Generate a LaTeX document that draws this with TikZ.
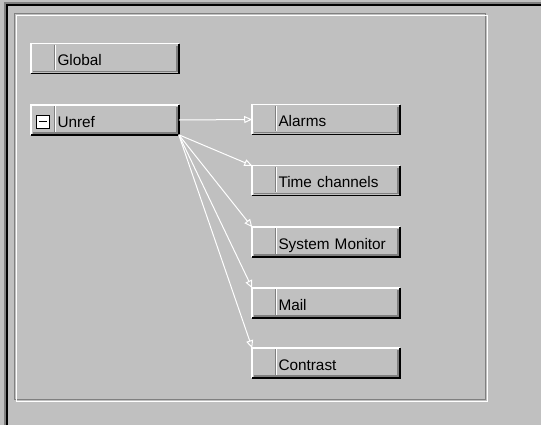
\documentclass[tikz,border=0pt]{standalone}
\usepackage{fontspec}
\setmainfont{Liberation Sans}
\usetikzlibrary{arrows.meta}
\definecolor{face}{HTML}{C0C0C0}
\definecolor{darkedge}{HTML}{808080}
\newlength{\px}
\setlength{\px}{0.75pt}
\newcommand{\bevel}[1]{%
  \draw[white, line width=1.5\px] (#1.south west) -- (#1.north west) -- (#1.north east);
  \draw[black, line width=1.5\px] (#1.north east) -- (#1.south east) -- (#1.south west);
  \draw[darkedge, line width=1.5\px] ([shift={(-2,2)}]#1.north east) -- ([shift={(-2,-2)}]#1.south east) -- ([shift={(2,-2)}]#1.south west);
  \draw[darkedge, line width=1\px] ([shift={(23.5,1)}]#1.north west) -- ([shift={(23.5,-3)}]#1.south west);
  \draw[white, line width=1\px] ([shift={(24.5,1)}]#1.north west) -- ([shift={(24.5,-3)}]#1.south west);
}
\tikzset{
  btn/.style={rectangle, fill=face, inner sep=0pt, minimum width=147\px, minimum height=29\px,
    text width=147\px, align=left, text height=10.5pt, text depth=0pt,
    font=\fontsize{11.5}{13}\selectfont, execute at begin node={\hspace*{26\px}}},
  link/.style={white, line width=1\px, -{Triangle[open, length=6pt, width=5.25pt]}}
}
\begin{document}
\begin{tikzpicture}[x=0.75pt, y=-0.75pt]
        \useasboundingbox (0,0) rectangle (541,425);
        \fill[face] (0,0) rectangle (541,425);
        % window border
        \draw[darkedge, line width=2\px] (5,425) -- (5,3) -- (541,3);
        \draw[black, line width=2\px] (7,425) -- (7,5) -- (541,5);
        % etched frame
        \draw[darkedge, line width=1\px] (14.5,13.5) rectangle (485.5,399.5);
        \draw[white, line width=1\px] (16,15) rectangle (487.5,401.5);

        \node[btn] (global) at (105,58.5) {Global};
        \node[btn] (unref) at (105,120) {Unref};
        \node[btn] (alarms) at (326,119.5) {Alarms};
        \node[btn] (timech) at (326,180.5) {Time channels};
        \node[btn] (sysmon) at (326,242) {System Monitor};
        \node[btn] (mail) at (326,303) {Mail};
        \node[btn] (contrast) at (326,363) {Contrast};
        \bevel{global}
        \bevel{unref}
        \bevel{alarms}
        \bevel{timech}
        \bevel{sysmon}
        \bevel{mail}
        \bevel{contrast}

        \node[draw=black, fill=white, line width=1\px, minimum size=13\px, inner sep=0pt] (collapse) at ([shift={(12,1.5)}]unref.west) {};
        \draw[line width=1.5\px] ([xshift=3\px]collapse.west) -- ([xshift=-3\px]collapse.east);

        \draw[link] (unref.east) -- (alarms.west);
        \draw[link] (unref.south east) -- (timech.north west);
        \draw[link] (unref.south east) -- (sysmon.north west);
        \draw[link] (unref.south east) -- (mail.north west);
        \draw[link] (unref.south east) -- (contrast.north west);
    \end{tikzpicture}
\end{document}
